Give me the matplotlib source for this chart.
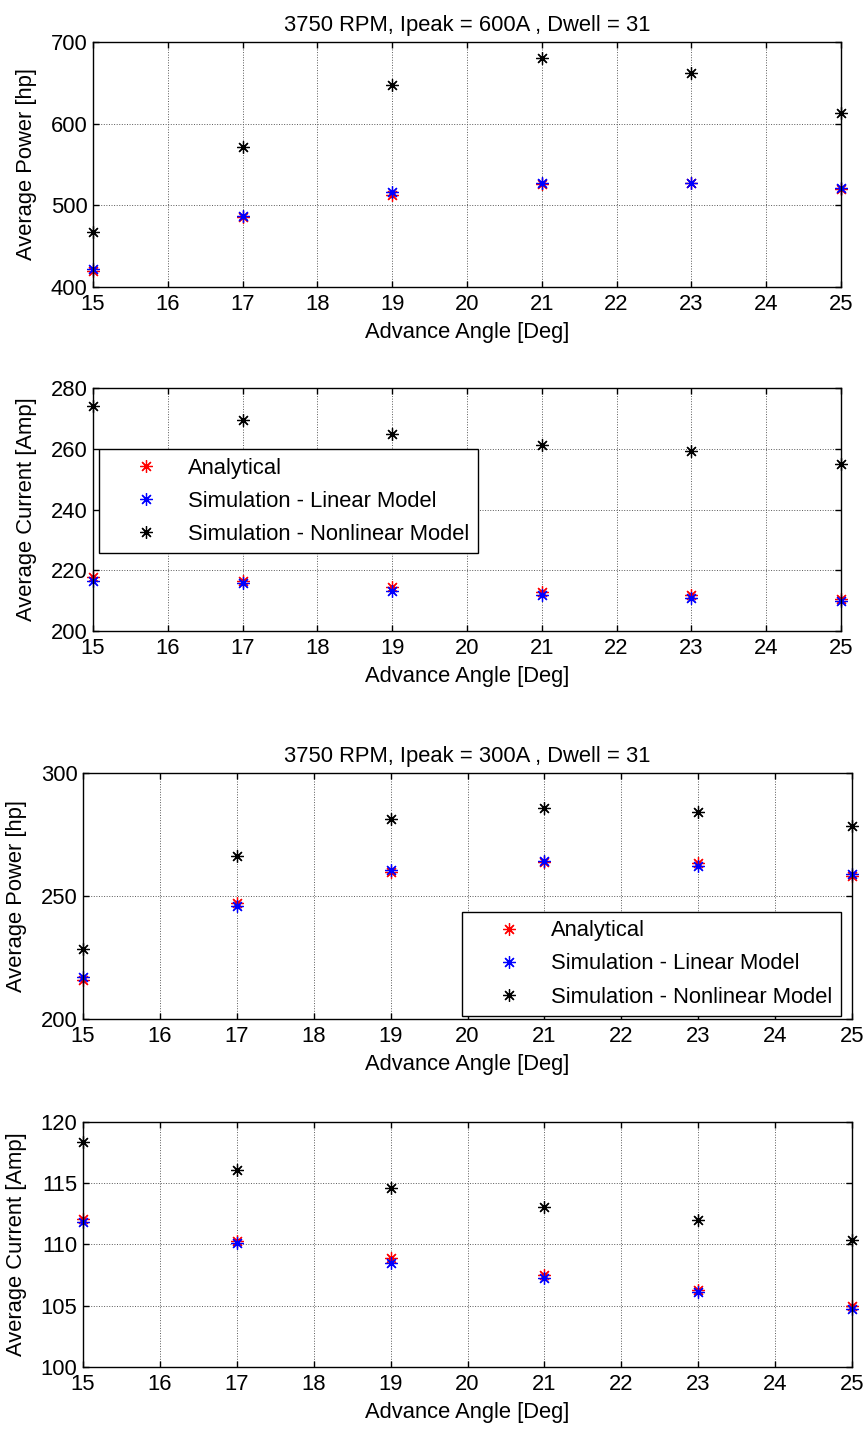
import numpy as np
import matplotlib
matplotlib.use("Agg")
import matplotlib.pyplot as plt

plt.rcParams['font.family'] = ['Liberation Sans', 'DejaVu Sans']

angle = [15, 17, 19, 21, 23, 25]

# 600 A case
p600_analytical = [420, 486, 513, 526, 527, 520]
p600_linear = [422, 487, 516, 527, 527, 521]
p600_nonlinear = [467, 572, 647, 680, 662, 613]

i600_analytical = [217.8, 216.4, 214.5, 213.0, 211.8, 210.4]
i600_linear = [216.5, 215.8, 213.2, 212.0, 211.0, 209.8]
i600_nonlinear = [274.0, 269.4, 264.8, 261.3, 259.3, 255.1]

# 300 A case
p300_analytical = [215.7, 247.0, 259.8, 264.0, 263.4, 258.0]
p300_linear = [217.0, 246.0, 260.7, 264.1, 262.0, 259.0]
p300_nonlinear = [228.6, 266.3, 281.2, 285.8, 284.1, 278.3]

i300_analytical = [112.1, 110.3, 108.9, 107.55, 106.3, 104.95]
i300_linear = [111.8, 110.1, 108.45, 107.3, 106.1, 104.7]
i300_nonlinear = [118.4, 116.1, 114.6, 113.1, 112.0, 110.4]

labels = ['Analytical', 'Simulation - Linear Model', 'Simulation - Nonlinear Model']
colors = ['red', 'blue', 'black']

FS = 15.8
W, H = 867, 1435
fig = plt.figure(figsize=(W / 100, H / 100), dpi=100)


def axes_px(left, right, top, bottom):
    return fig.add_axes([left / W, 1 - bottom / H, (right - left) / W, (bottom - top) / H])


def setup(ax, ylim, yticks, ylabel):
    ax.set_xlim(15, 25)
    ax.set_xticks(range(15, 26))
    ax.set_ylim(*ylim)
    ax.set_yticks(yticks)
    ax.grid(True, linestyle=':', color='0.35', linewidth=0.7)
    ax.tick_params(direction='in', top=True, right=True, length=4, width=1,
                   labelsize=FS)
    ax.tick_params(axis='x', pad=5)
    ax.tick_params(axis='y', pad=4)
    for s in ax.spines.values():
        s.set_linewidth(1)
    ax.set_xlabel('Advance Angle [Deg]', fontsize=FS, labelpad=5)
    ax.set_ylabel(ylabel, fontsize=FS, labelpad=10)


def draw(ax, series):
    for ys, c, lab in zip(series, colors, labels):
        ax.plot(angle, ys, linestyle='none', marker=(8, 2, 0), markersize=9,
                markeredgewidth=0.9, color=c, label=lab, clip_on=False)


def add_legend(ax, loc, anchor):
    leg = ax.legend(loc=loc, bbox_to_anchor=anchor, fontsize=FS, numpoints=1,
                    handlelength=3.5, handletextpad=0.15, borderpad=0.4,
                    labelspacing=0.55, borderaxespad=0, fancybox=False,
                    edgecolor='black', framealpha=1)
    leg.get_frame().set_linewidth(1)


ax1 = axes_px(93, 841, 42, 287)
draw(ax1, [p600_analytical, p600_linear, p600_nonlinear])
setup(ax1, (400, 700), [400, 500, 600, 700], 'Average Power [hp]')
ax1.set_title('3750 RPM, Ipeak = 600A , Dwell = 31', fontsize=FS, pad=8)

ax2 = axes_px(93, 841, 388, 631)
draw(ax2, [i600_analytical, i600_linear, i600_nonlinear])
setup(ax2, (200, 280), [200, 220, 240, 260, 280], 'Average Current [Amp]')
add_legend(ax2, 'upper left', (0.008, 0.750))

ax3 = axes_px(83, 852, 773, 1019)
draw(ax3, [p300_analytical, p300_linear, p300_nonlinear])
setup(ax3, (200, 300), [200, 250, 300], 'Average Power [hp]')
ax3.set_title('3750 RPM, Ipeak = 300A , Dwell = 31', fontsize=FS, pad=8)
add_legend(ax3, 'lower right', (0.9857, 0.011))

ax4 = axes_px(83, 852, 1122, 1367)
draw(ax4, [i300_analytical, i300_linear, i300_nonlinear])
setup(ax4, (100, 120), [100, 105, 110, 115, 120], 'Average Current [Amp]')

fig.savefig('out.png', dpi=100)
